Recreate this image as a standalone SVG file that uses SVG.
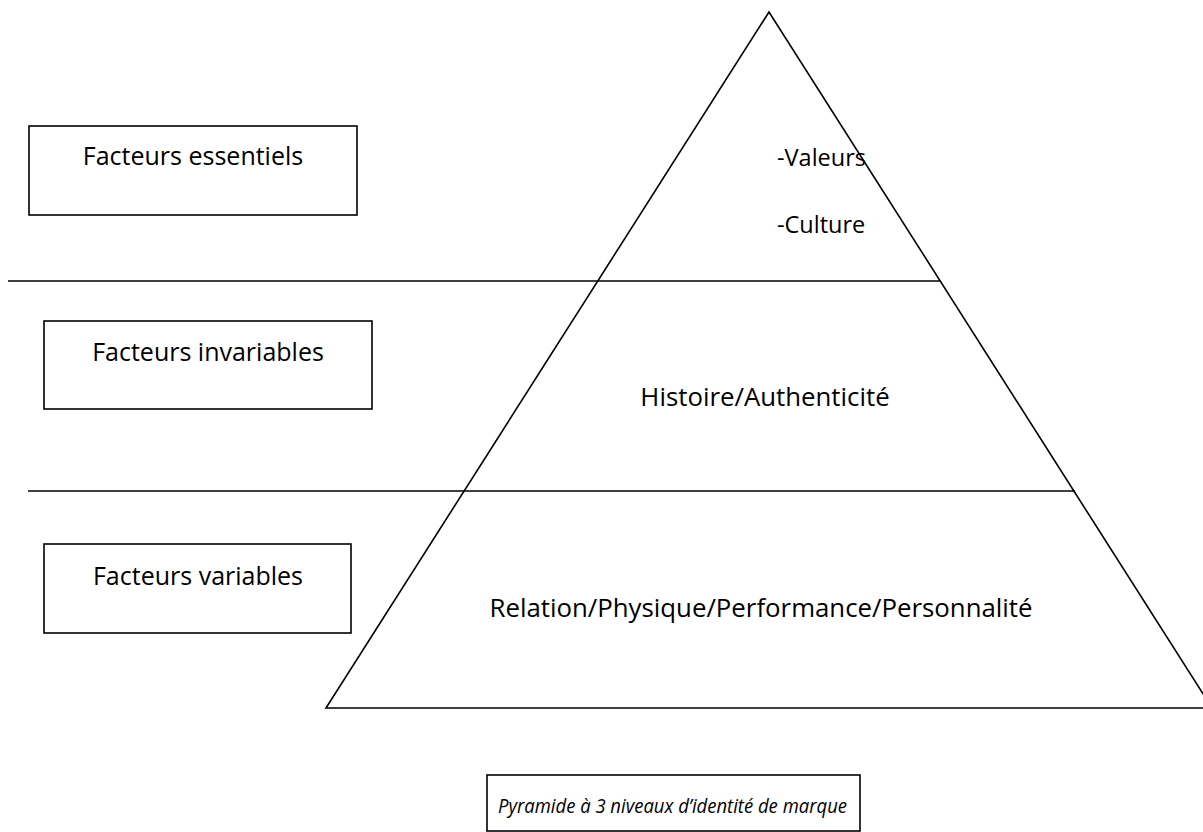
<svg xmlns="http://www.w3.org/2000/svg" width="1203" height="832" viewBox="0 0 1203 832">
<style>
.box{fill:#fff;stroke:#000;stroke-width:1.6}
.ln{stroke:#000;stroke-width:1.6;fill:none}
text{font-family:"Open Sans","Liberation Sans",sans-serif;font-size:25px;fill:#000}
.pt{font-size:25.8px}
.vc{font-size:23.5px}
.it{font-style:italic;font-size:20.5px}
</style>
<rect width="1203" height="832" fill="#fff"/>
<g id="connectors">
<line class="ln" x1="8" y1="281" x2="941" y2="281"/>
<line class="ln" x1="28" y1="491" x2="1075" y2="491"/>
</g>
<g id="pyramid">
<polygon class="ln" points="769,12 326,708 1212,708"/>
<text class="vc" x="777" y="166">-Valeurs</text>
<text class="vc" x="777" y="233">-Culture</text>
<text class="pt" x="765" y="406" text-anchor="middle">Histoire/Authenticité</text>
<text class="pt" x="761" y="617" text-anchor="middle">Relation/Physique/Performance/Personnalité</text>
</g>
<g id="box-essentiels">
<rect class="box" x="29" y="126" width="328" height="89"/>
<text x="193" y="165" text-anchor="middle">Facteurs essentiels</text>
</g>
<g id="box-invariables">
<rect class="box" x="44" y="321" width="328" height="88"/>
<text x="208" y="361" text-anchor="middle">Facteurs invariables</text>
</g>
<g id="box-variables">
<rect class="box" x="44" y="544" width="307" height="89"/>
<text x="198" y="585" text-anchor="middle">Facteurs variables</text>
</g>
<g id="caption">
<rect class="box" x="487" y="775" width="373" height="56"/>
<text class="it" x="498" y="813" textLength="349" lengthAdjust="spacingAndGlyphs">Pyramide à 3 niveaux d’identité de marque</text>
</g>
</svg>
